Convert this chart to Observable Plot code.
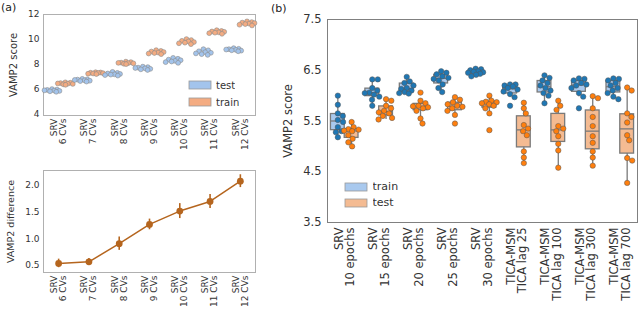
<!DOCTYPE html>
<html><head><meta charset="utf-8">
<script src="https://cdn.jsdelivr.net/npm/d3@7"></script>
<script src="https://cdn.jsdelivr.net/npm/@observablehq/plot@0.6"></script>
<style>
body{margin:0;background:#fff;font-family:"DejaVu Sans",sans-serif;}
#root{position:relative;width:640px;height:313px;overflow:hidden;background:#fff;}
.pane{position:absolute;}
.tag{position:absolute;font-size:11px;color:#222;}
.leg rect{stroke:#999;stroke-width:0.8;}
.legA [class$="-swatch"]{min-height:16px;}
.legB [class$="-swatch"]{min-height:15px;}
</style></head><body><div id="root"></div>
<script>
// ---------- data: panel (a) ----------
const cvLabels = ["SRV\n6 CVs","SRV\n7 CVs","SRV\n8 CVs","SRV\n9 CVs","SRV\n10 CVs","SRV\n11 CVs","SRV\n12 CVs"];
const cvTest = [
  [5.8, 5.84, 5.87, 5.9, 5.92, 5.95, 5.98, 6.02],
  [6.62, 6.66, 6.69, 6.72, 6.75, 6.78, 6.8, 6.84],
  [7.1, 7.14, 7.18, 7.2, 7.23, 7.27, 7.32, 7.4],
  [7.55, 7.6, 7.64, 7.68, 7.71, 7.74, 7.78, 7.82],
  [8.12, 8.18, 8.23, 8.28, 8.33, 8.38, 8.45, 8.52],
  [8.76, 8.82, 8.88, 8.93, 8.98, 9.05, 9.13, 9.22],
  [9.05, 9.1, 9.13, 9.16, 9.19, 9.22, 9.25, 9.3]
];
const cvTrain = [
  [6.36, 6.4, 6.43, 6.45, 6.47, 6.5, 6.53, 6.56],
  [7.22, 7.25, 7.27, 7.29, 7.31, 7.33, 7.35, 7.37],
  [8.02, 8.05, 8.08, 8.1, 8.12, 8.14, 8.18, 8.22],
  [8.82, 8.87, 8.91, 8.95, 8.99, 9.03, 9.08, 9.14],
  [9.62, 9.69, 9.74, 9.79, 9.84, 9.89, 9.95, 10.03],
  [10.45, 10.5, 10.54, 10.57, 10.61, 10.64, 10.68, 10.74],
  [11.12, 11.18, 11.23, 11.27, 11.31, 11.35, 11.39, 11.45]
];
const cvDiff = [0.54, 0.57, 0.91, 1.27, 1.52, 1.70, 2.08];
const cvDiffErr = [0.08, 0.06, 0.125, 0.1, 0.14, 0.13, 0.12];

// ---------- data: panel (b) ----------
const epLabels = ["SRV\n10 epochs","SRV\n15 epochs","SRV\n20 epochs","SRV\n25 epochs","SRV\n30 epochs",
  "TICA-MSM\nTICA lag 25","TICA-MSM\nTICA lag 100","TICA-MSM\nTICA lag 300","TICA-MSM\nTICA lag 700"];
const epTrain = [
  [6.0, 5.82, 5.65, 5.6, 5.52, 5.48, 5.38, 5.3, 5.28, 5.18],
  [6.32, 6.32, 6.15, 6.1, 6.06, 6.05, 6.02, 5.98, 5.92, 5.8],
  [6.37, 6.28, 6.25, 6.2, 6.15, 6.13, 6.1, 6.07, 6.05, 6.04],
  [6.48, 6.45, 6.42, 6.38, 6.35, 6.33, 6.3, 6.22, 6.15, 6.07],
  [6.53, 6.52, 6.5, 6.48, 6.47, 6.46, 6.45, 6.43, 6.41, 6.38],
  [6.22, 6.22, 6.2, 6.18, 6.15, 6.12, 6.08, 6.03, 5.97, 5.8],
  [6.4, 6.35, 6.3, 6.25, 6.2, 6.15, 6.1, 6.05, 6.0, 5.85],
  [6.34, 6.33, 6.3, 6.25, 6.22, 6.2, 6.15, 6.05, 5.98, 5.75],
  [6.34, 6.33, 6.3, 6.25, 6.2, 6.15, 6.1, 6.05, 5.98, 5.93]
];
const epTest = [
  [5.48, 5.38, 5.34, 5.33, 5.31, 5.3, 5.22, 5.15, 5.08, 5.0],
  [5.93, 5.9, 5.8, 5.75, 5.7, 5.67, 5.65, 5.6, 5.56, 5.53],
  [6.06, 5.9, 5.85, 5.8, 5.79, 5.77, 5.75, 5.7, 5.55, 5.45],
  [5.97, 5.92, 5.87, 5.83, 5.8, 5.78, 5.75, 5.7, 5.62, 5.45],
  [6.0, 5.9, 5.88, 5.87, 5.85, 5.83, 5.8, 5.75, 5.65, 5.32],
  [5.86, 5.75, 5.65, 5.42, 5.35, 5.3, 5.22, 4.9, 4.78, 4.67],
  [5.9, 5.8, 5.72, 5.4, 5.35, 5.3, 5.2, 5.05, 4.92, 4.58],
  [5.99, 5.95, 5.75, 5.58, 5.4, 5.2, 5.07, 4.9, 4.78, 4.62],
  [6.16, 6.1, 5.65, 5.58, 5.47, 5.22, 5.12, 4.77, 4.72, 4.28]
];

// ---------- helpers ----------
const root = document.getElementById("root");
function place(node, left, top, cls) {
  const d = document.createElement("div");
  d.className = cls || "pane";
  d.style.left = left + "px"; d.style.top = top + "px";
  d.appendChild(node); root.appendChild(d); return d;
}
function tag(text, left, top) {
  const d = document.createElement("div");
  d.className = "tag"; d.textContent = text;
  d.style.left = left + "px"; d.style.top = top + "px"; root.appendChild(d);
}
// beeswarm offsets (pixel space, limited half-width) -> data units
function swarm(vals, r, toPx, pxPerUnit, halfW) {
  const pts = vals.map(v => ({v, py: toPx(v)})).sort((a, b) => a.py - b.py);
  const placed = [], d2 = (2 * r) * (2 * r);
  const cands = [0];
  for (let k = 1; k * 0.25 <= halfW; k++) { cands.push(k * 0.25, -k * 0.25); }
  for (const p of pts) {
    let chosen = null, bestX = 0, bestD = -1;
    for (const cand of cands) {
      let minD = Infinity;
      for (const q of placed) {
        const dx = cand - q.px, dy = p.py - q.py;
        minD = Math.min(minD, dx * dx + dy * dy);
      }
      if (minD >= d2) { chosen = cand; break; }
      if (minD > bestD) { bestD = minD; bestX = cand; }
    }
    p.px = chosen === null ? bestX : chosen; placed.push(p);
  }
  return pts.map(p => ({v: p.v, dx: p.px / pxPerUnit}));
}
function boxStats(vals) {
  const s = vals.slice().sort(d3.ascending);
  const q1 = d3.quantile(s, 0.25), med = d3.quantile(s, 0.5), q3 = d3.quantile(s, 0.75);
  const iqr = q3 - q1;
  const lo = d3.min(s.filter(v => v >= q1 - 1.5 * iqr));
  const hi = d3.max(s.filter(v => v <= q3 + 1.5 * iqr));
  return {q1, med, q3, lo, hi};
}

// ---------- panel (a) top ----------
{
  const W = 262, H = 152, m = {l: 43, r: 7, t: 14, b: 37};
  const dom = [3.9, 12];
  const toPx = v => m.t + (dom[1] - v) / (dom[1] - dom[0]) * (H - m.t - m.b);
  const ppu = (W - m.l - m.r) / cvLabels.length;
  const dots = [];
  cvLabels.forEach((_, i) => {
    swarm(cvTest[i], 2.4, toPx, ppu, 7.5).forEach(p => dots.push({x: i - 0.22 + p.dx, y: p.v, s: "test"}));
    swarm(cvTrain[i], 2.4, toPx, ppu, 7.5).forEach(p => dots.push({x: i + 0.22 + p.dx, y: p.v, s: "train"}));
  });
  const svg = Plot.plot({
    width: W, height: H, marginLeft: m.l, marginRight: m.r, marginTop: m.t, marginBottom: m.b,
    style: {fontFamily: "DejaVu Sans", fontSize: "9px", color: "#333", background: "transparent"},
    x: {domain: [-0.5, cvLabels.length - 0.5]},
    y: {domain: dom},
    color: {domain: ["test", "train"], range: ["#a3c4ec", "#f4ac82"]},
    marks: [
      Plot.frame({stroke: "#b0b0b0"}),
      Plot.dot(dots, {x: "x", y: "y", r: 2.4, fill: "s", stroke: "#8c8c8c", strokeWidth: 0.6}),
      Plot.axisX({ticks: d3.range(cvLabels.length), tickFormat: i => cvLabels[i], tickRotate: -90, tickSize: 0, tickPadding: 3, label: null}),
      Plot.axisY({ticks: [4, 6, 8, 10, 12], tickSize: 0, tickPadding: 4, label: null}),
      Plot.axisY({ticks: [], label: "VAMP2 score", labelAnchor: "center", labelArrow: "none", labelOffset: 34, fontSize: 10})
    ]
  });
  place(svg, 0, 0);
  const leg = Plot.legend({color: {domain: ["test", "train"], range: ["#a3c4ec", "#f4ac82"]}, legend: "swatches",
    swatchWidth: 22, swatchHeight: 8, columns: 1, style: {fontFamily: "DejaVu Sans", fontSize: "10px", color: "#333"}});
  place(leg, 189, 77, "pane leg legA");
}

// ---------- panel (a) bottom ----------
{
  const W = 262, H = 161;
  const brown = "#b5651e";
  const diff = cvDiff.map((v, i) => ({i, v, e: cvDiffErr[i]}));
  const svg = Plot.plot({
    width: W, height: H, marginLeft: 43, marginRight: 7, marginTop: 18, marginBottom: 41,
    style: {fontFamily: "DejaVu Sans", fontSize: "9px", color: "#333", background: "transparent"},
    x: {domain: [-0.5, cvLabels.length - 0.5]},
    y: {domain: [0.37, 2.28]},
    marks: [
      Plot.frame({stroke: "#b0b0b0"}),
      Plot.line(diff, {x: "i", y: "v", stroke: brown, strokeWidth: 1.5}),
      Plot.ruleX(diff, {x: "i", y1: d => d.v - d.e, y2: d => d.v + d.e, stroke: brown, strokeWidth: 1.6}),
      Plot.dot(diff, {x: "i", y: "v", r: 3.4, fill: brown}),
      Plot.axisX({ticks: d3.range(cvLabels.length), tickFormat: i => cvLabels[i], tickRotate: -90, tickSize: 0, tickPadding: 3, label: null}),
      Plot.axisY({ticks: [0.5, 1.0, 1.5, 2.0], tickFormat: ".1f", tickSize: 0, tickPadding: 4, label: null}),
      Plot.axisY({ticks: [], label: "VAMP2 difference", labelAnchor: "center", labelArrow: "none", labelOffset: 36, fontSize: 9.5})
    ]
  });
  place(svg, 0, 152);
}

// ---------- panel (b) ----------
{
  const W = 378, H = 313, m = {l: 65, r: 3, t: 19, b: 91};
  const dom = [3.5, 7.5];
  const toPx = v => m.t + (dom[1] - v) / (dom[1] - dom[0]) * (H - m.t - m.b);
  const ppu = (W - m.l - m.r) / epLabels.length;
  const dots = [], boxes = [];
  epLabels.forEach((_, i) => {
    [["train", epTrain[i], -0.2], ["test", epTest[i], 0.2]].forEach(([s, vals, off]) => {
      const b = boxStats(vals);
      boxes.push({x: i + off, s, ...b});
      swarm(vals, 2.7, toPx, ppu, 7.5).forEach(p => dots.push({x: i + off + p.dx, y: p.v, s}));
    });
  });
  const boxFill = {train: "#a9c9ee", test: "#f4bb92"};
  const dotFill = {train: "#1f77b4", test: "#ff7f0e"};
  const svg = Plot.plot({
    width: W, height: H, marginLeft: m.l, marginRight: m.r, marginTop: m.t, marginBottom: m.b,
    style: {fontFamily: "DejaVu Sans", fontSize: "11.5px", color: "#333", background: "transparent"},
    x: {domain: [-0.5, epLabels.length - 0.5]},
    y: {domain: dom},
    marks: [
      Plot.ruleX(boxes, {x: "x", y1: "lo", y2: "hi", stroke: "#7a7a7a", strokeWidth: 1.3}),
      Plot.rect(boxes, {x1: d => d.x - 0.2, x2: d => d.x + 0.2, y1: "q1", y2: "q3", fill: d => boxFill[d.s], stroke: "#7a7a7a", strokeWidth: 1.3}),
      Plot.ruleY(boxes, {y: "med", x1: d => d.x - 0.2, x2: d => d.x + 0.2, stroke: "#7a7a7a", strokeWidth: 1.3}),
      Plot.dot(dots, {x: "x", y: "y", r: 2.7, fill: d => dotFill[d.s], stroke: "#555", strokeWidth: 0.5}),
      Plot.frame({stroke: "#808080"}),
      Plot.axisX({ticks: d3.range(epLabels.length), tickFormat: i => epLabels[i], tickRotate: -90, tickSize: 0, tickPadding: 5, label: null}),
      Plot.axisY({ticks: [3.5, 4.5, 5.5, 6.5, 7.5], tickFormat: ".1f", tickSize: 0, tickPadding: 6, label: "VAMP2 score", labelAnchor: "center", labelArrow: "none", labelOffset: 44})
    ]
  });
  place(svg, 262, 0);
  const leg = Plot.legend({color: {domain: ["train", "test"], range: ["#a9c9ee", "#f4bb92"]}, legend: "swatches",
    swatchWidth: 22, swatchHeight: 8, columns: 1, style: {fontFamily: "DejaVu Sans", fontSize: "11px", color: "#333"}});
  place(leg, 345, 179, "pane leg legB");
}

tag("(a)", 1, 1);
tag("(b)", 271, 2);
</script></body></html>
